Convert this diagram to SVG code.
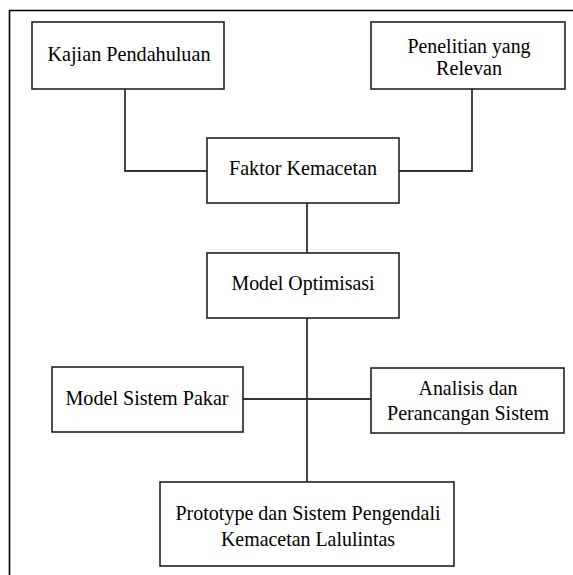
<svg xmlns="http://www.w3.org/2000/svg" width="573" height="575" viewBox="0 0 573 575">
<style>
.box{fill:#fff;stroke:#222;stroke-width:1.6}
.t{font-family:'Liberation Serif','DejaVu Serif',serif;font-size:21.5px;fill:#000;text-anchor:middle}
.s{font-size:20px}
.c{fill:none;stroke:#333;stroke-width:1.8}
</style>
<rect x="0" y="0" width="573" height="575" fill="#fff"/>
<path d="M9.5,576 V10.5 H574" fill="none" stroke="#000" stroke-width="1.6"/>
<g id="connectors">
<path class="c" d="M125,89 V171 H207"/>
<path class="c" d="M472,89 V171 H399"/>
<path class="c" d="M307,203 V253"/>
<path class="c" d="M307,318 V482"/>
<path class="c" d="M243,399 H371"/>
</g>
<g id="kajian">
<rect class="box" x="32" y="22" width="192" height="67"/>
<text class="t" x="129" y="61" textLength="163" lengthAdjust="spacingAndGlyphs">Kajian Pendahuluan</text>
</g>
<g id="penelitian">
<rect class="box" x="371" y="22" width="194" height="67"/>
<text class="t s" x="469" y="52.5" textLength="123" lengthAdjust="spacingAndGlyphs">Penelitian yang</text>
<text class="t s" x="469" y="74.5" textLength="66" lengthAdjust="spacingAndGlyphs">Relevan</text>
</g>
<g id="faktor">
<rect class="box" x="207" y="138" width="192" height="65"/>
<text class="t" x="303" y="175" textLength="148" lengthAdjust="spacingAndGlyphs">Faktor Kemacetan</text>
</g>
<g id="optimisasi">
<rect class="box" x="207" y="253" width="192" height="65"/>
<text class="t" x="303" y="290" textLength="143" lengthAdjust="spacingAndGlyphs">Model Optimisasi</text>
</g>
<g id="pakar">
<rect class="box" x="52" y="367" width="191" height="65"/>
<text class="t" x="147" y="405" textLength="163" lengthAdjust="spacingAndGlyphs">Model Sistem Pakar</text>
</g>
<g id="analisis">
<rect class="box" x="371" y="368" width="193" height="65"/>
<text class="t" x="468" y="395" textLength="99" lengthAdjust="spacingAndGlyphs">Analisis dan</text>
<text class="t" x="468" y="420" textLength="162" lengthAdjust="spacingAndGlyphs">Perancangan Sistem</text>
</g>
<g id="prototype">
<rect class="box" x="160" y="482" width="294" height="84"/>
<text class="t" x="308" y="520" textLength="265" lengthAdjust="spacingAndGlyphs">Prototype dan Sistem Pengendali</text>
<text class="t" x="308" y="546" textLength="174" lengthAdjust="spacingAndGlyphs">Kemacetan Lalulintas</text>
</g>
</svg>
